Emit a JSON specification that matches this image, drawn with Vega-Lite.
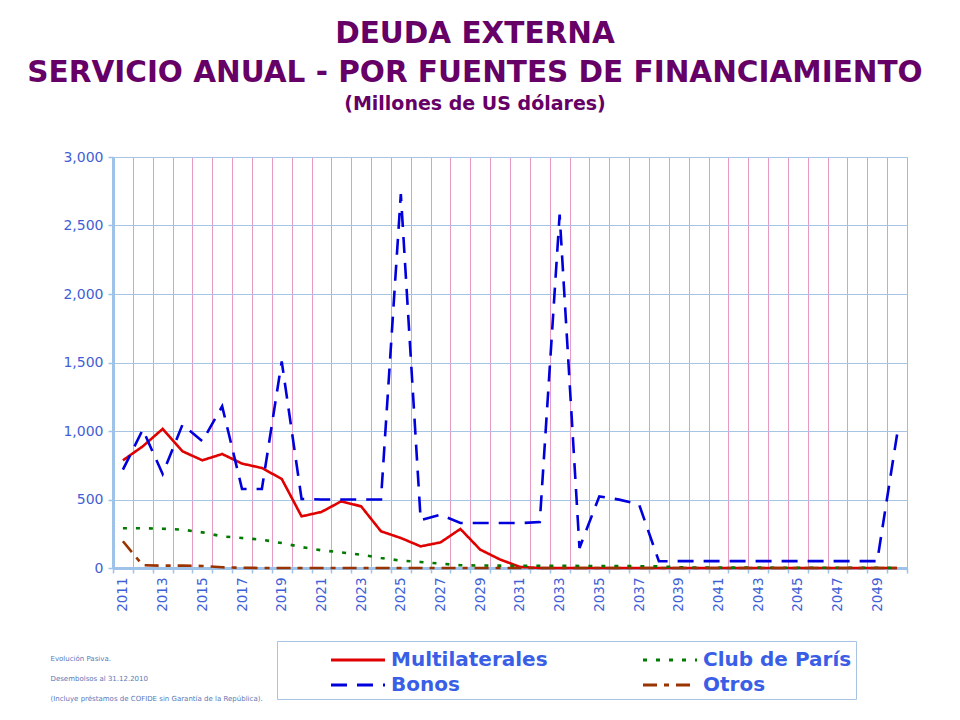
{
  "$schema": "https://vega.github.io/schema/vega-lite/v6.json",
  "autosize": "none",
  "width": 794,
  "height": 411,
  "padding": {"left": 113, "top": 157, "right": 53, "bottom": 152},
  "background": "white",
  "title": {
    "text": ["DEUDA EXTERNA", "SERVICIO ANUAL - POR FUENTES DE FINANCIAMIENTO"],
    "subtitle": "(Millones de US dólares)",
    "anchor": "middle",
    "frame": "group",
    "dx": -35,
    "offset": 35,
    "font": "DejaVu Sans",
    "fontSize": 29.5,
    "fontWeight": "bold",
    "lineHeight": 39,
    "color": "#660066",
    "subtitleFont": "DejaVu Sans",
    "subtitleFontSize": 19,
    "subtitleFontWeight": "bold",
    "subtitleColor": "#660066",
    "subtitlePadding": 7
  },
  "config": {
    "view": {"stroke": "#a8c4e4", "strokeWidth": 1},
    "font": "DejaVu Sans"
  },
  "data": {
    "values": [
      {"anio": 2011, "fuente": "Multilaterales", "monto": 786},
      {"anio": 2012, "fuente": "Multilaterales", "monto": 888},
      {"anio": 2013, "fuente": "Multilaterales", "monto": 1015},
      {"anio": 2014, "fuente": "Multilaterales", "monto": 852},
      {"anio": 2015, "fuente": "Multilaterales", "monto": 786},
      {"anio": 2016, "fuente": "Multilaterales", "monto": 832},
      {"anio": 2017, "fuente": "Multilaterales", "monto": 762},
      {"anio": 2018, "fuente": "Multilaterales", "monto": 730},
      {"anio": 2019, "fuente": "Multilaterales", "monto": 650},
      {"anio": 2020, "fuente": "Multilaterales", "monto": 377},
      {"anio": 2021, "fuente": "Multilaterales", "monto": 409},
      {"anio": 2022, "fuente": "Multilaterales", "monto": 487},
      {"anio": 2023, "fuente": "Multilaterales", "monto": 450},
      {"anio": 2024, "fuente": "Multilaterales", "monto": 268},
      {"anio": 2025, "fuente": "Multilaterales", "monto": 219},
      {"anio": 2026, "fuente": "Multilaterales", "monto": 158},
      {"anio": 2027, "fuente": "Multilaterales", "monto": 187},
      {"anio": 2028, "fuente": "Multilaterales", "monto": 285},
      {"anio": 2029, "fuente": "Multilaterales", "monto": 134},
      {"anio": 2030, "fuente": "Multilaterales", "monto": 62},
      {"anio": 2031, "fuente": "Multilaterales", "monto": 8},
      {"anio": 2032, "fuente": "Multilaterales", "monto": 0},
      {"anio": 2033, "fuente": "Multilaterales", "monto": 0},
      {"anio": 2034, "fuente": "Multilaterales", "monto": 0},
      {"anio": 2035, "fuente": "Multilaterales", "monto": 0},
      {"anio": 2036, "fuente": "Multilaterales", "monto": 0},
      {"anio": 2037, "fuente": "Multilaterales", "monto": 0},
      {"anio": 2038, "fuente": "Multilaterales", "monto": 0},
      {"anio": 2039, "fuente": "Multilaterales", "monto": 0},
      {"anio": 2040, "fuente": "Multilaterales", "monto": 0},
      {"anio": 2041, "fuente": "Multilaterales", "monto": 0},
      {"anio": 2042, "fuente": "Multilaterales", "monto": 0},
      {"anio": 2043, "fuente": "Multilaterales", "monto": 0},
      {"anio": 2044, "fuente": "Multilaterales", "monto": 0},
      {"anio": 2045, "fuente": "Multilaterales", "monto": 0},
      {"anio": 2046, "fuente": "Multilaterales", "monto": 0},
      {"anio": 2047, "fuente": "Multilaterales", "monto": 0},
      {"anio": 2048, "fuente": "Multilaterales", "monto": 0},
      {"anio": 2049, "fuente": "Multilaterales", "monto": 0},
      {"anio": 2050, "fuente": "Multilaterales", "monto": 0},
      {"anio": 2011, "fuente": "Bonos", "monto": 718},
      {"anio": 2012, "fuente": "Bonos", "monto": 1010},
      {"anio": 2013, "fuente": "Bonos", "monto": 686},
      {"anio": 2014, "fuente": "Bonos", "monto": 1046},
      {"anio": 2015, "fuente": "Bonos", "monto": 925},
      {"anio": 2016, "fuente": "Bonos", "monto": 1180},
      {"anio": 2017, "fuente": "Bonos", "monto": 577},
      {"anio": 2018, "fuente": "Bonos", "monto": 577},
      {"anio": 2019, "fuente": "Bonos", "monto": 1508},
      {"anio": 2020, "fuente": "Bonos", "monto": 504},
      {"anio": 2021, "fuente": "Bonos", "monto": 500},
      {"anio": 2022, "fuente": "Bonos", "monto": 500},
      {"anio": 2023, "fuente": "Bonos", "monto": 500},
      {"anio": 2024, "fuente": "Bonos", "monto": 500},
      {"anio": 2025, "fuente": "Bonos", "monto": 2730},
      {"anio": 2026, "fuente": "Bonos", "monto": 350},
      {"anio": 2027, "fuente": "Bonos", "monto": 389},
      {"anio": 2028, "fuente": "Bonos", "monto": 328},
      {"anio": 2029, "fuente": "Bonos", "monto": 328},
      {"anio": 2030, "fuente": "Bonos", "monto": 328},
      {"anio": 2031, "fuente": "Bonos", "monto": 328},
      {"anio": 2032, "fuente": "Bonos", "monto": 335},
      {"anio": 2033, "fuente": "Bonos", "monto": 2579},
      {"anio": 2034, "fuente": "Bonos", "monto": 146},
      {"anio": 2035, "fuente": "Bonos", "monto": 523},
      {"anio": 2036, "fuente": "Bonos", "monto": 499},
      {"anio": 2037, "fuente": "Bonos", "monto": 465},
      {"anio": 2038, "fuente": "Bonos", "monto": 49},
      {"anio": 2039, "fuente": "Bonos", "monto": 50},
      {"anio": 2040, "fuente": "Bonos", "monto": 50},
      {"anio": 2041, "fuente": "Bonos", "monto": 50},
      {"anio": 2042, "fuente": "Bonos", "monto": 50},
      {"anio": 2043, "fuente": "Bonos", "monto": 50},
      {"anio": 2044, "fuente": "Bonos", "monto": 50},
      {"anio": 2045, "fuente": "Bonos", "monto": 50},
      {"anio": 2046, "fuente": "Bonos", "monto": 50},
      {"anio": 2047, "fuente": "Bonos", "monto": 50},
      {"anio": 2048, "fuente": "Bonos", "monto": 50},
      {"anio": 2049, "fuente": "Bonos", "monto": 50},
      {"anio": 2050, "fuente": "Bonos", "monto": 975},
      {"anio": 2011, "fuente": "Club de París", "monto": 290},
      {"anio": 2012, "fuente": "Club de París", "monto": 290},
      {"anio": 2013, "fuente": "Club de París", "monto": 287},
      {"anio": 2014, "fuente": "Club de París", "monto": 280},
      {"anio": 2015, "fuente": "Club de París", "monto": 260},
      {"anio": 2016, "fuente": "Club de París", "monto": 231},
      {"anio": 2017, "fuente": "Club de París", "monto": 219},
      {"anio": 2018, "fuente": "Club de París", "monto": 207},
      {"anio": 2019, "fuente": "Club de París", "monto": 182},
      {"anio": 2020, "fuente": "Club de París", "monto": 153},
      {"anio": 2021, "fuente": "Club de París", "monto": 129},
      {"anio": 2022, "fuente": "Club de París", "monto": 114},
      {"anio": 2023, "fuente": "Club de París", "monto": 97},
      {"anio": 2024, "fuente": "Club de París", "monto": 73},
      {"anio": 2025, "fuente": "Club de París", "monto": 54},
      {"anio": 2026, "fuente": "Club de París", "monto": 44},
      {"anio": 2027, "fuente": "Club de París", "monto": 32},
      {"anio": 2028, "fuente": "Club de París", "monto": 20},
      {"anio": 2029, "fuente": "Club de París", "monto": 18},
      {"anio": 2030, "fuente": "Club de París", "monto": 17},
      {"anio": 2031, "fuente": "Club de París", "monto": 16},
      {"anio": 2032, "fuente": "Club de París", "monto": 16},
      {"anio": 2033, "fuente": "Club de París", "monto": 16},
      {"anio": 2034, "fuente": "Club de París", "monto": 15},
      {"anio": 2035, "fuente": "Club de París", "monto": 14},
      {"anio": 2036, "fuente": "Club de París", "monto": 14},
      {"anio": 2037, "fuente": "Club de París", "monto": 13},
      {"anio": 2038, "fuente": "Club de París", "monto": 12},
      {"anio": 2039, "fuente": "Club de París", "monto": 5},
      {"anio": 2040, "fuente": "Club de París", "monto": 3},
      {"anio": 2041, "fuente": "Club de París", "monto": 3},
      {"anio": 2042, "fuente": "Club de París", "monto": 3},
      {"anio": 2043, "fuente": "Club de París", "monto": 3},
      {"anio": 2044, "fuente": "Club de París", "monto": 2},
      {"anio": 2045, "fuente": "Club de París", "monto": 2},
      {"anio": 2046, "fuente": "Club de París", "monto": 2},
      {"anio": 2047, "fuente": "Club de París", "monto": 2},
      {"anio": 2048, "fuente": "Club de París", "monto": 2},
      {"anio": 2049, "fuente": "Club de París", "monto": 2},
      {"anio": 2050, "fuente": "Club de París", "monto": 0},
      {"anio": 2011, "fuente": "Otros", "monto": 195},
      {"anio": 2012, "fuente": "Otros", "monto": 20},
      {"anio": 2013, "fuente": "Otros", "monto": 17},
      {"anio": 2014, "fuente": "Otros", "monto": 17},
      {"anio": 2015, "fuente": "Otros", "monto": 15},
      {"anio": 2016, "fuente": "Otros", "monto": 5},
      {"anio": 2017, "fuente": "Otros", "monto": 2},
      {"anio": 2018, "fuente": "Otros", "monto": 0},
      {"anio": 2019, "fuente": "Otros", "monto": 0},
      {"anio": 2020, "fuente": "Otros", "monto": 0},
      {"anio": 2021, "fuente": "Otros", "monto": 0},
      {"anio": 2022, "fuente": "Otros", "monto": 0},
      {"anio": 2023, "fuente": "Otros", "monto": 0},
      {"anio": 2024, "fuente": "Otros", "monto": 0},
      {"anio": 2025, "fuente": "Otros", "monto": 0},
      {"anio": 2026, "fuente": "Otros", "monto": 0},
      {"anio": 2027, "fuente": "Otros", "monto": 0},
      {"anio": 2028, "fuente": "Otros", "monto": 0},
      {"anio": 2029, "fuente": "Otros", "monto": 0},
      {"anio": 2030, "fuente": "Otros", "monto": 0},
      {"anio": 2031, "fuente": "Otros", "monto": 0},
      {"anio": 2032, "fuente": "Otros", "monto": 0},
      {"anio": 2033, "fuente": "Otros", "monto": 0},
      {"anio": 2034, "fuente": "Otros", "monto": 0},
      {"anio": 2035, "fuente": "Otros", "monto": 0},
      {"anio": 2036, "fuente": "Otros", "monto": 0},
      {"anio": 2037, "fuente": "Otros", "monto": 0},
      {"anio": 2038, "fuente": "Otros", "monto": 0},
      {"anio": 2039, "fuente": "Otros", "monto": 0},
      {"anio": 2040, "fuente": "Otros", "monto": 0},
      {"anio": 2041, "fuente": "Otros", "monto": 0},
      {"anio": 2042, "fuente": "Otros", "monto": 0},
      {"anio": 2043, "fuente": "Otros", "monto": 0},
      {"anio": 2044, "fuente": "Otros", "monto": 0},
      {"anio": 2045, "fuente": "Otros", "monto": 0},
      {"anio": 2046, "fuente": "Otros", "monto": 0},
      {"anio": 2047, "fuente": "Otros", "monto": 0},
      {"anio": 2048, "fuente": "Otros", "monto": 0},
      {"anio": 2049, "fuente": "Otros", "monto": 0},
      {"anio": 2050, "fuente": "Otros", "monto": 0}
    ]
  },
  "mark": {"type": "line", "strokeWidth": 2.6},
  "encoding": {
    "x": {
      "field": "anio",
      "type": "ordinal",
      "scale": {"paddingInner": 0, "paddingOuter": 0},
      "axis": {
        "title": ["Evolución Pasiva.", "Desembolsos al 31.12.2010", "(Incluye préstamos de COFIDE sin Garantía de la República)."],
        "titleX": -63,
        "titleY": 86,
        "titleAlign": "left",
        "titleAnchor": null,
        "titleAngle": 0,
        "titleBaseline": "top",
        "titleFont": "DejaVu Sans",
        "titleFontSize": 7,
        "titleFontWeight": "normal",
        "titleColor": "#5a78b8",
        "titleLineHeight": 20,
        "tickBand": "extent",
        "grid": true,
        "gridColor": "#e79ac4",
        "gridWidth": 1,
        "domainColor": "#9ec2e8",
        "domainWidth": 3,
        "tickColor": "#9ec2e8",
        "tickSize": 5,
        "tickWidth": 1.5,
        "labelAngle": -90,
        "labelColor": "#3f5fd6",
        "labelFontSize": 13.5,
        "labelPadding": 4,
        "labelExpr": "datum.value % 2 == 1 ? datum.label : ''"
      }
    },
    "y": {
      "field": "monto",
      "type": "quantitative",
      "scale": {"domain": [0, 3000], "nice": false},
      "axis": {
        "title": null,
        "values": [0, 500, 1000, 1500, 2000, 2500, 3000],
        "format": ",d",
        "gridColor": "#a8c4e4",
        "gridWidth": 1,
        "domainColor": "#9ec2e8",
        "domainWidth": 3,
        "tickColor": "#9ec2e8",
        "tickSize": 5,
        "tickWidth": 1.5,
        "labelColor": "#3f5fd6",
        "labelFontSize": 14,
        "labelPadding": 5
      }
    },
    "color": {
      "field": "fuente",
      "type": "nominal",
      "scale": {
        "domain": ["Multilaterales", "Club de París", "Bonos", "Otros"],
        "range": ["#e00000", "#007a00", "#0000dd", "#993300"]
      },
      "legend": {
        "title": null,
        "orient": "none",
        "legendX": 164,
        "legendY": 484,
        "direction": "horizontal",
        "columns": 2,
        "columnPadding": 45,
        "rowPadding": -2,
        "padding": 4,
        "symbolOffset": 62,
        "strokeColor": "#a8c4e4",
        "symbolType": "M-2,0H2",
        "symbolSize": 729,
        "symbolStrokeWidth": 3,
        "labelFont": "DejaVu Sans",
        "labelFontSize": 20,
        "labelFontWeight": "bold",
        "labelColor": "#3a5fe6",
        "labelOffset": 18,
        "labelLimit": 300
      }
    },
    "strokeDash": {
      "field": "fuente",
      "type": "nominal",
      "scale": {
        "domain": ["Multilaterales", "Club de París", "Bonos", "Otros"],
        "range": [[1, 0], [4, 9], [16, 10], [14, 7, 5, 7]]
      },
      "legend": null
    }
  }
}
